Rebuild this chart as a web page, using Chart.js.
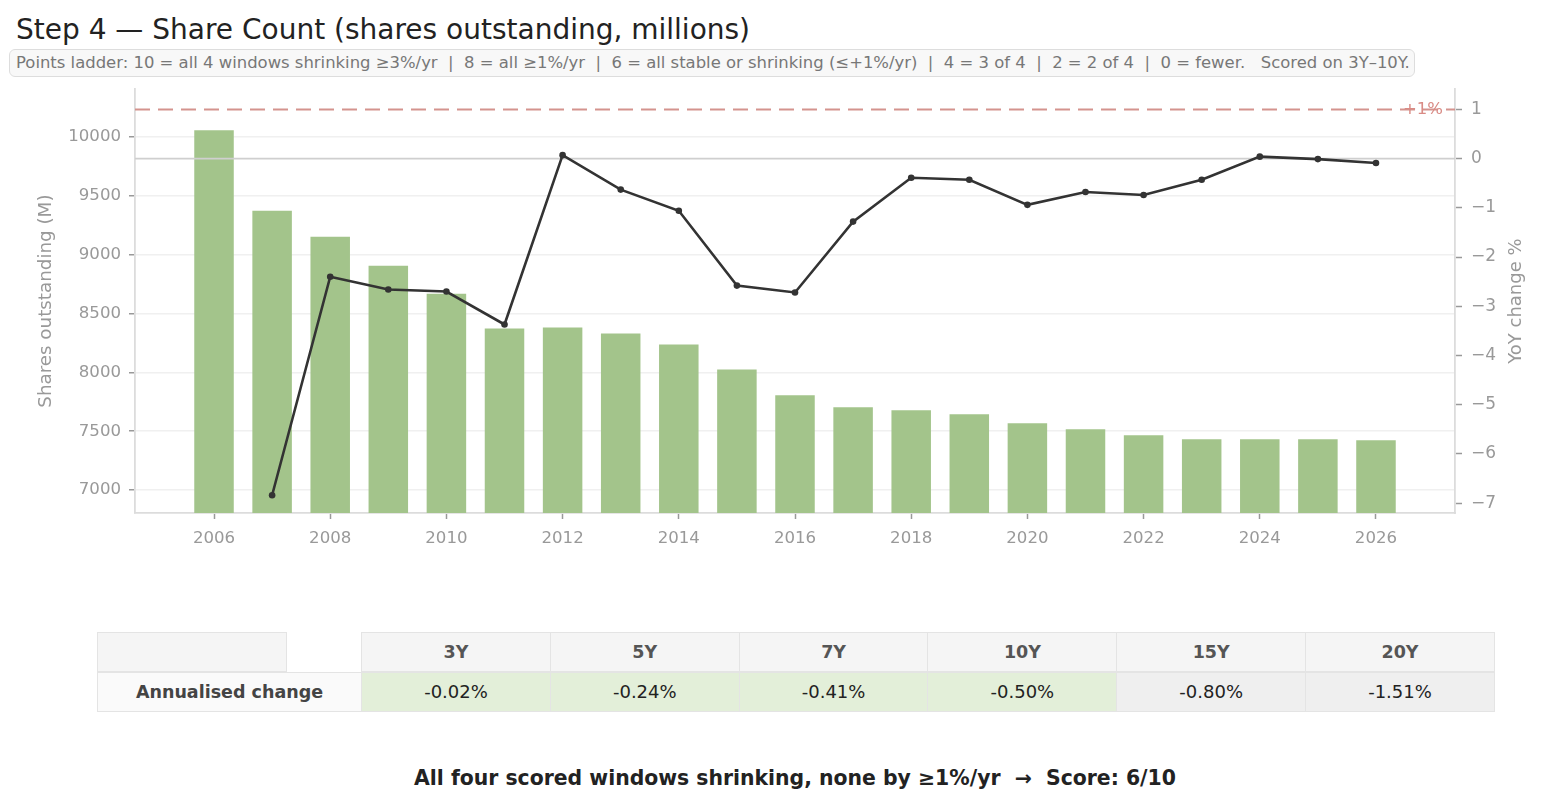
<!DOCTYPE html>
<html>
<head>
<meta charset="utf-8">
<script src="https://cdn.jsdelivr.net/npm/chart.js@4"></script>
<style>
  body { margin: 0; background: #fff; font-family: "DejaVu Sans", sans-serif; }
  #page { position: relative; width: 1542px; height: 802px; overflow: hidden; }
  #title { position: absolute; left: 16px; top: 13px; font-size: 28px; color: #222; white-space: nowrap; }
  #ladder { position: absolute; left: 9px; top: 49px; width: 1398px; height: 26px; border: 1px solid #ddd;
            border-radius: 6px; background: #f8f8f8; font-size: 16.45px; color: #777; line-height: 26px;
            padding-left: 6px; box-sizing: content-box; white-space: pre; }
  #chart { position: absolute; left: 0; top: 70px; }
  .cell { position: absolute; box-sizing: border-box; border: 1px solid #e4e4e4; text-align: center;
          height: 40px; line-height: 38px; white-space: nowrap; }
  .head { background: #f5f5f5; color: #555; font-weight: bold; font-size: 17.5px; }
  #verdict { position: absolute; left: 0; width: 1590px; top: 766px; text-align: center;
             font-weight: bold; font-size: 20.4px; color: #222; white-space: pre; }
</style>
</head>
<body>
<div id="page">
  <canvas id="chart" width="1542" height="480"></canvas>
  <div id="title">Step 4 — Share Count (shares outstanding, millions)</div>
  <div id="ladder">Points ladder: 10 = all 4 windows shrinking ≥3%/yr  |  8 = all ≥1%/yr  |  6 = all stable or shrinking (≤+1%/yr)  |  4 = 3 of 4  |  2 = 2 of 4  |  0 = fewer.   Scored on 3Y–10Y.</div>
  <div id="table"></div>
  <div id="verdict">All four scored windows shrinking, none by ≥1%/yr  →  Score: 6/10</div>
</div>
<script>
const years = [2006, 2007, 2008, 2009, 2010, 2011, 2012, 2013, 2014, 2015, 2016,
               2017, 2018, 2019, 2020, 2021, 2022, 2023, 2024, 2025, 2026];
const shares = [10059, 9373, 9153, 8907, 8669, 8373, 8381, 8330, 8237, 8025, 7805,
                7703, 7678, 7644, 7568, 7517, 7466, 7432, 7432, 7432, 7424];
const yoyYears = years.slice(1);
const yoyPct = [-6.84, -2.40, -2.66, -2.70, -3.37, 0.07, -0.63, -1.06, -2.58, -2.72,
                -1.28, -0.39, -0.43, -0.94, -0.68, -0.74, -0.43, 0.04, -0.01, -0.09];
const ceilingPct = 1;

const yearTicks = [2006, 2008, 2010, 2012, 2014, 2016, 2018, 2020, 2022, 2024, 2026];
const shareTicks = [7000, 7500, 8000, 8500, 9000, 9500, 10000];
const pctTicks = [-7, -6, -5, -4, -3, -2, -1, 0, 1];

const windows = ["3Y", "5Y", "7Y", "10Y", "15Y", "20Y"];
const annualised = [-0.02, -0.24, -0.41, -0.50, -0.80, -1.51];
const scoredWindows = ["3Y", "5Y", "7Y", "10Y"];

// table under the chart
const table = document.getElementById("table");
function addCell(x, y, w, text, css) {
  const d = document.createElement("div");
  d.className = "cell";
  d.style.left = x + "px";
  d.style.top = y + "px";
  d.style.width = w + "px";
  d.textContent = text;
  Object.assign(d.style, css || {});
  table.appendChild(d);
  return d;
}
addCell(97, 632, 190, "", { background: "#f5f5f5" });
addCell(97, 672, 265, "Annualised change", { background: "#fafafa", fontWeight: "bold", fontSize: "17.5px", color: "#444" });
windows.forEach((w, i) => {
  const x = 361 + i * 188.8;
  addCell(x, 632, 190, w).className = "cell head";
  const scored = scoredWindows.includes(w);
  addCell(x, 672, 190, annualised[i].toFixed(2) + "%", {
    background: scored ? "#e3efd9" : "#efefef", fontSize: "18px", color: "#222"
  });
});

const gray = "#999";
const minus = v => String(v).replace("-", "\u2212");
const fixTicks = list => s => { s.ticks = list.map(value => ({ value })); };

const refLines = {
  id: "refLines",
  afterDatasetDraw(chart, args) {
    if (args.meta.type !== "bar") return;
    const { ctx, chartArea } = chart;
    const y1 = chart.scales.y1;
    ctx.save();
    // zero line
    const y0 = y1.getPixelForValue(0);
    ctx.strokeStyle = "#cfcfcf";
    ctx.lineWidth = 1.8;
    ctx.beginPath();
    ctx.moveTo(chartArea.left, y0);
    ctx.lineTo(chartArea.right, y0);
    ctx.stroke();
    // +1% ceiling
    const yc = y1.getPixelForValue(ceilingPct);
    ctx.strokeStyle = "#d4938e";
    ctx.lineWidth = 2;
    ctx.setLineDash([15, 8]);
    ctx.beginPath();
    ctx.moveTo(chartArea.left, yc);
    ctx.lineTo(chartArea.right, yc);
    ctx.stroke();
    ctx.setLineDash([]);
    ctx.fillStyle = "#d98b85";
    ctx.font = "16.5px 'DejaVu Sans'";
    ctx.textAlign = "right";
    ctx.textBaseline = "middle";
    ctx.fillText("+1%", chartArea.right - 12, yc);
    ctx.restore();
  },
  afterDraw(chart) {
    const { ctx, chartArea } = chart;
    ctx.save();
    ctx.translate(1516, (chartArea.top + chartArea.bottom) / 2);
    ctx.rotate(-Math.PI / 2);
    ctx.fillStyle = gray;
    ctx.font = "18px 'DejaVu Sans'";
    ctx.textAlign = "center";
    ctx.textBaseline = "middle";
    ctx.fillText("YoY change %", 0, 0);
    ctx.restore();
  }
};

new Chart(document.getElementById("chart").getContext("2d"), {
  data: {
    datasets: [
      {
        type: "line",
        data: yoyYears.map((x, i) => ({ x, y: yoyPct[i] })),
        yAxisID: "y1",
        borderColor: "#333",
        backgroundColor: "#333",
        borderWidth: 2.6,
        pointRadius: 3.3,
        pointBackgroundColor: "#333",
        pointBorderWidth: 0,
        tension: 0,
        order: 0
      },
      {
        type: "bar",
        data: years.map((x, i) => ({ x, y: shares[i] })),
        yAxisID: "y",
        backgroundColor: "#a3c48b",
        categoryPercentage: 1,
        barPercentage: 0.68,
        order: 1
      }
    ]
  },
  options: {
    responsive: false,
    animation: false,
    devicePixelRatio: 1,
    layout: { padding: { top: 0, left: 0, right: 0, bottom: 0 } },
    plugins: { legend: { display: false }, tooltip: { enabled: false } },
    scales: {
      x: {
        type: "linear",
        offset: false,
        min: 2004.64,
        max: 2027.36,
        grid: { offset: false, drawOnChartArea: false, tickColor: gray, tickLength: 6, tickWidth: 1.5 },
        border: { color: "#dcdcdc", width: 1.8 },
        afterBuildTicks: fixTicks(yearTicks),
        ticks: {
          color: gray,
          padding: 10,
          maxRotation: 0,
          autoSkip: false,
          font: { family: "DejaVu Sans", size: 16.6 },
          callback: v => String(v)
        },
        afterFit: s => { s.height = 37; }
      },
      y: {
        position: "left",
        min: 6805,
        max: 10407,
        grid: { color: "#f0f0f0", lineWidth: 1.5, tickColor: gray, tickLength: 6, tickWidth: 1.5 },
        border: { color: "#dcdcdc", width: 1.8 },
        afterBuildTicks: fixTicks(shareTicks),
        ticks: {
          color: gray,
          padding: 8,
          autoSkip: false,
          font: { family: "DejaVu Sans", size: 16.6 },
          callback: v => String(v)
        },
        title: {
          display: true,
          text: "Shares outstanding (M)",
          color: gray,
          font: { family: "DejaVu Sans", size: 18.3 },
          padding: { top: 35, bottom: 0 }
        },
        afterFit: s => { s.width = 135; }
      },
      y1: {
        position: "right",
        min: -7.2,
        max: 1.41,
        grid: { drawOnChartArea: false, tickColor: gray, tickLength: 7, tickWidth: 1.5 },
        border: { color: "#dcdcdc", width: 1.8 },
        afterBuildTicks: fixTicks(pctTicks),
        ticks: {
          color: gray,
          padding: 9,
          autoSkip: false,
          font: { family: "DejaVu Sans", size: 17 },
          callback: v => minus(v)
        },
        afterFit: s => { s.width = 87; }
      }
    }
  },
  plugins: [refLines]
});
</script>
</body>
</html>
